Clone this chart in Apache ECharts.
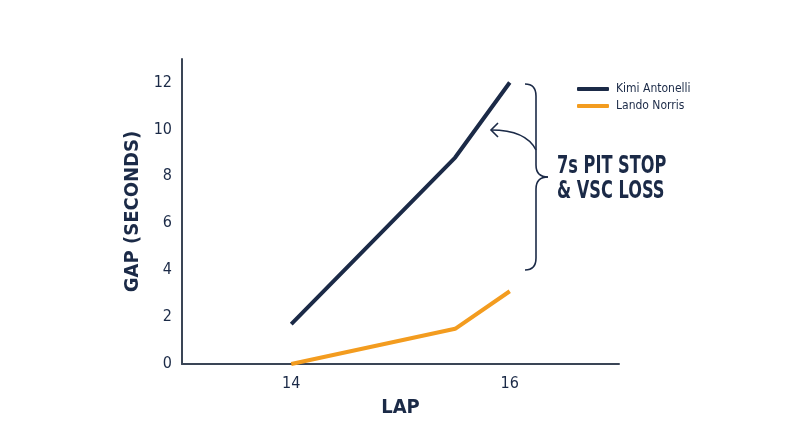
<!DOCTYPE html>
<html>
<head>
<meta charset="utf-8">
<script src="https://cdn.jsdelivr.net/npm/echarts@6/dist/echarts.min.js"></script>
<style>
  html, body { margin: 0; padding: 0; background: #fff; }
  #main { width: 800px; height: 447px; }
</style>
</head>
<body>
<div id="main"></div>
<script>
// data
var laps = [14, 15.5, 16];
var kimiGap = [1.7, 8.8, 12];
var landoGap = [0, 1.5, 3.1];
var xLabels = [14, 16];

var navy = '#1b2a47';
var orange = '#f39c1f';
var font = "'Liberation Sans Narrow', 'DejaVu Sans Condensed', 'Roboto', sans-serif";

function pairs(xs, ys) {
    var out = [];
    for (var i = 0; i < xs.length; i++) {
        out.push([xs[i], ys[i]]);
    }
    return out;
}

var lineStyleAnno = { fill: 'none', stroke: navy, lineWidth: 1.6 };

// 曲线段
function curve(x1, y1, cx, cy, x2, y2) {
    return {
        type: 'bezierCurve',
        shape: { x1: x1, y1: y1, cpx1: cx, cpy1: cy, x2: x2, y2: y2 },
        style: lineStyleAnno
    };
}
// 直线段
function seg(x1, y1, x2, y2) {
    return {
        type: 'line',
        shape: { x1: x1, y1: y1, x2: x2, y2: y2 },
        style: lineStyleAnno
    };
}

var chart = echarts.init(document.getElementById('main'));

var option = {
    backgroundColor: '#fff',
    animation: false,
    grid: { left: 182, right: 181, top: 59, bottom: 83 },
    legend: {
        left: 572,
        top: 78,
        orient: 'vertical',
        itemWidth: 32,
        itemHeight: 4,
        itemGap: 5,
        icon: 'roundRect',
        textStyle: { color: navy, fontFamily: font, fontSize: 12, padding: [0, 0, 0, 2] },
        data: ['Kimi Antonelli', 'Lando Norris']
    },
    xAxis: {
        type: 'value',
        min: 13,
        max: 17,
        interval: 1,
        name: 'LAP',
        nameLocation: 'middle',
        nameGap: 34,
        nameTextStyle: { color: navy, fontFamily: font, fontSize: 20, fontWeight: 'bold' },
        axisLine: { lineStyle: { color: '#3a4556', width: 2 } },
        axisTick: { show: false },
        splitLine: { show: false },
        axisLabel: {
            color: navy,
            fontFamily: font,
            fontSize: 16,
            margin: 12,
            formatter: function (v) {
                return xLabels.indexOf(v) >= 0 ? String(v) : '';
            }
        }
    },
    yAxis: {
        type: 'value',
        min: 0,
        max: 13,
        interval: 2,
        name: 'GAP (SECONDS)',
        nameLocation: 'middle',
        nameGap: 38,
        nameTextStyle: { color: navy, fontFamily: font, fontSize: 20, fontWeight: 'bold' },
        axisLine: { show: true, lineStyle: { color: '#3a4556', width: 2 } },
        axisTick: { show: false },
        splitLine: { show: false },
        axisLabel: { color: navy, fontFamily: font, fontSize: 16, margin: 10, showMaxLabel: false }
    },
    series: [
        {
            name: 'Kimi Antonelli',
            type: 'line',
            data: pairs(laps, kimiGap),
            symbol: 'none',
            lineStyle: { color: navy, width: 4 },
            itemStyle: { color: navy }
        },
        {
            name: 'Lando Norris',
            type: 'line',
            data: pairs(laps, landoGap),
            symbol: 'none',
            lineStyle: { color: orange, width: 4 },
            itemStyle: { color: orange }
        }
    ],
    graphic: [
        // 大括号
        curve(525, 84, 536, 84, 536, 96),
        seg(536, 96, 536, 165),
        curve(536, 165, 536, 177, 548, 177),
        curve(548, 177, 536, 177, 536, 189),
        seg(536, 189, 536, 258),
        curve(536, 258, 536, 270, 525, 270),
        // 箭头
        curve(536, 150, 526, 130, 491, 130),
        {
            type: 'polyline',
            shape: { points: [[498, 123], [491, 130], [498, 137]] },
            style: lineStyleAnno
        },
        {
            type: 'text',
            x: 557,
            y: 154,
            scaleX: 0.72,
            style: {
                text: '7s PIT STOP\n& VSC LOSS',
                fill: navy,
                font: 'bold 25px ' + font,
                lineHeight: 25
            }
        }
    ]
};

chart.setOption(option);
</script>
</body>
</html>
